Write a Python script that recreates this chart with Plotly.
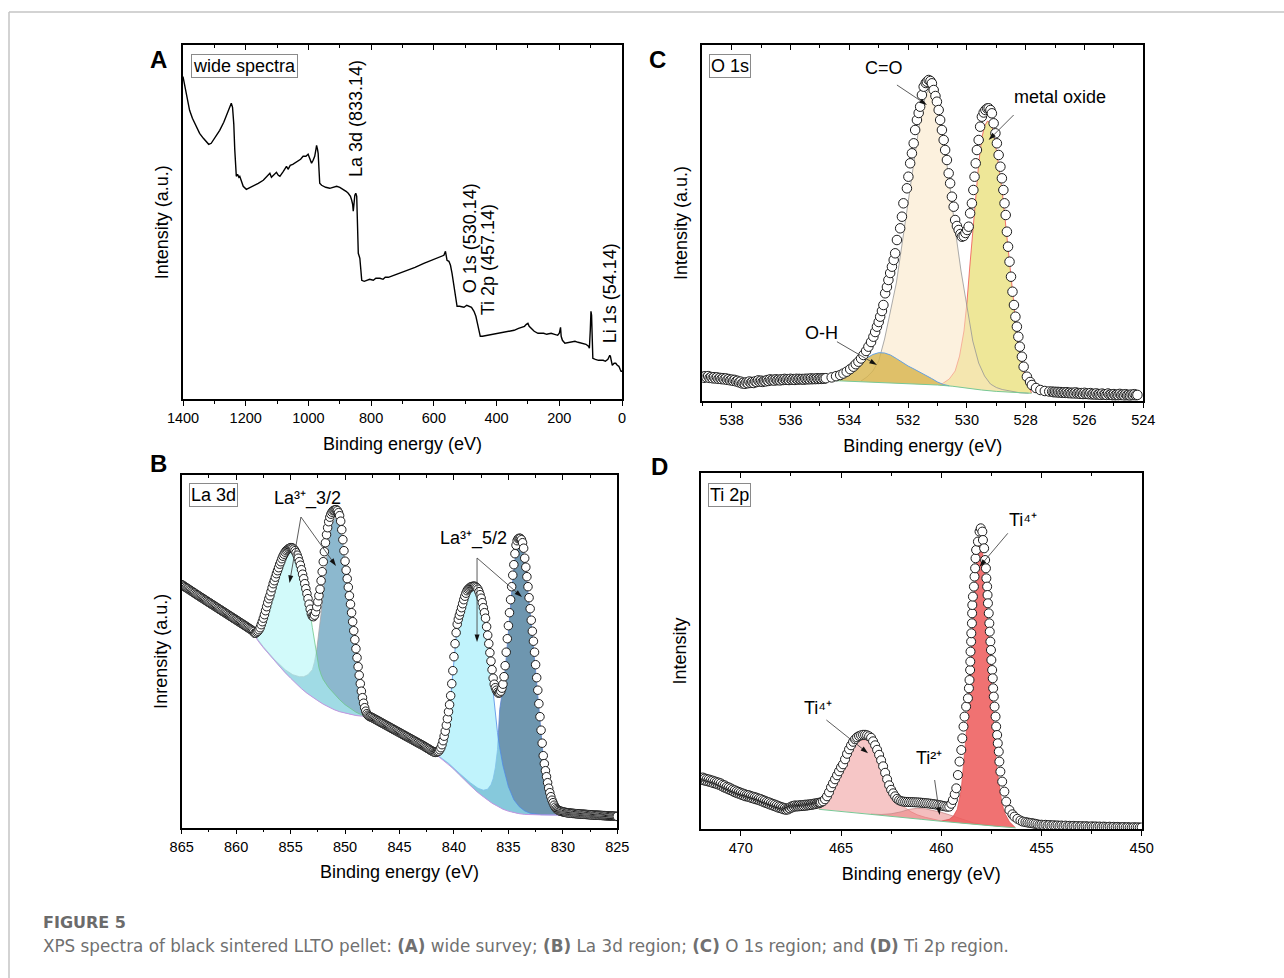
import plotly.graph_objects as go

# ================= DATA =================
# ---- Panel A: wide survey spectrum ----
A_energy = [1400, 1395, 1389, 1379, 1370, 1363, 1347, 1335, 1326, 1318, 1310, 1304, 1290, 1283, 1270, 1262, 1252, 1246,
            1242, 1238, 1235, 1232, 1230, 1226, 1222, 1219, 1214, 1208, 1198, 1185, 1171, 1160, 1144, 1130, 1123, 1118,
            1110, 1102, 1096, 1091, 1080, 1070, 1065, 1058, 1050, 1038, 1025, 1017, 1008, 1001, 995, 990, 985, 980, 976,
            974, 971, 969, 966, 964, 958, 953, 945, 932, 920, 910, 900, 889, 880, 873, 866, 862, 859, 857, 855, 852, 849,
            846, 844, 842, 841, 838, 836, 833, 830, 822, 814, 805, 793, 785, 772, 762, 755, 745, 728, 710, 686, 660, 632,
            610, 590, 575, 568, 563, 560, 558, 552, 547, 542, 536, 531, 526, 518, 510, 504, 495, 488, 480, 472, 466, 461,
            456, 452, 445, 429, 410, 386, 365, 344, 330, 311, 305, 300, 296, 290, 280, 268, 250, 240, 226, 215, 205, 200,
            196, 194, 190, 182, 170, 150, 140, 123, 115, 107, 104, 101, 99, 97, 95, 93, 85, 75, 60, 53, 45, 39, 37, 34, 31,
            25, 20, 15, 10, 6, 3, 0]
A_intensity = [322.7, 314, 306, 289, 281, 276, 266, 261, 258, 255, 256, 259, 265, 269, 277, 283, 290, 296,
               292, 275, 250, 232, 223, 225, 222, 223, 219, 213, 210, 212, 214, 216, 219, 224, 226, 222,
               225, 227, 224, 223, 228, 233, 230, 234, 235, 237, 240, 243, 243, 245, 240, 236, 239, 243, 250,
               254, 250, 246, 228, 216, 214, 213, 212, 211, 212, 213, 212, 210, 208, 206, 203, 199, 195, 188, 197, 204, 206,
               203, 180, 160, 146, 143, 141, 130, 119, 118, 119, 120, 119, 121, 121, 120, 122, 122, 124, 126, 129, 132, 136,
               139, 141, 143, 144, 148, 144, 139, 138, 134, 126, 115, 106, 93, 93, 92, 92, 94, 93, 92, 88, 83, 76,
               68, 63, 63, 64, 65, 66, 68, 69, 71, 73, 75, 76, 73, 71, 68, 66, 66, 65, 66, 65, 64, 66,
               72, 63, 59, 56, 57, 58, 57, 56, 55, 53, 51, 70, 88, 84, 60, 41, 40, 39, 39, 38, 40, 44, 43, 36, 34,
               36, 36, 34, 33, 30, 28, 28]
A_peak_labels = ["La 3d (833.14)", "O 1s (530.14)", "Ti 2p (457.14)", "Li 1s (54.14)"]

# ---- Panel B: La 3d ----
B_energy_base_left = [865.0, 864.9, 864.8, 864.7, 864.6, 864.5, 864.4, 864.3, 864.2, 864.1, 864.0, 863.9, 863.8, 863.7,
                      863.6, 863.5, 863.4, 863.3, 863.2, 863.1, 863.0, 862.9, 862.8, 862.7, 862.6, 862.5, 862.4, 862.3,
                      862.2, 862.1, 862.0, 861.9, 861.8, 861.7, 861.6, 861.5, 861.4, 861.3, 861.2, 861.1, 861.0, 860.9,
                      860.8, 860.7, 860.6, 860.5, 860.4, 860.3, 860.2, 860.1, 860.0, 859.9, 859.8, 859.7, 859.6, 859.5,
                      859.4, 859.3, 859.2, 859.1, 859.0, 858.9, 858.8, 858.7, 858.6, 858.5]
B_int_base_left = [243.0, 242.4, 241.5, 240.9, 240.1, 239.4, 238.8, 237.9, 237.3, 236.5, 235.9, 235.1, 234.5, 233.6,
                   233.0, 232.3, 231.6, 230.8, 230.2, 229.4, 228.8, 228.0, 227.4, 226.6, 226.0, 225.2, 224.6, 223.8,
                   223.2, 222.4, 221.8, 221.0, 220.4, 219.6, 219.0, 218.2, 217.6, 216.8, 216.2, 215.4, 214.8, 214.0,
                   213.4, 212.6, 212.0, 211.2, 210.6, 209.8, 209.2, 208.4, 207.8, 207.0, 206.4, 205.6, 205.0, 204.2,
                   203.6, 202.8, 202.2, 201.4, 200.7, 200.0, 199.2, 198.5, 197.8, 197.0]
B_energy_peaks1 = [858.4, 858.3, 858.2, 858.1, 858.0, 857.9, 857.8, 857.7, 857.6, 857.5, 857.4, 857.3, 857.2, 857.1, 857.0,
                   856.9, 856.8, 856.7, 856.6, 856.5, 856.4, 856.3, 856.2, 856.1, 856.0, 855.9, 855.8, 855.7, 855.6, 855.5,
                   855.4, 855.3, 855.2, 855.1, 855.0, 854.9, 854.8, 854.7, 854.6, 854.5, 854.4, 854.3, 854.2, 854.1, 854.0,
                   853.9, 853.8, 853.7, 853.6, 853.5, 853.4, 853.3, 853.2, 853.1, 853.0, 852.9, 852.8, 852.7, 852.6, 852.5,
                   852.4, 852.3, 852.2, 852.1, 852.0, 851.9, 851.8, 851.7, 851.6, 851.5, 851.4, 851.3, 851.2, 851.1, 851.0,
                   850.9, 850.8, 850.7, 850.6, 850.5, 850.4, 850.3, 850.2, 850.1, 850.0, 849.9, 849.8, 849.7, 849.6, 849.5,
                   849.4, 849.3, 849.2, 849.1, 849.0, 848.9, 848.8, 848.7, 848.6, 848.5, 848.4, 848.3, 848.2, 848.1, 848.0,
                   847.9, 847.8, 847.7]
B_int_peaks1 = [196, 194.5, 194.5, 195.5, 196.5, 198, 200, 203, 206, 209.5, 213, 217, 221, 225, 229,
                232, 236, 240, 244, 247, 250.5, 254, 257, 260, 263.5, 266, 269, 271.5, 273.5, 275.5,
                277, 278, 279, 279.5, 280, 280, 279.5, 278.5, 277, 275, 272.5, 269.5, 266, 262.5, 258,
                253.5, 249, 244, 239, 234, 229, 223.5, 218.5, 214, 211.5, 211, 212.5, 216, 221, 226,
                232, 238.5, 247, 256, 266, 276, 285, 293, 300, 306, 310.5, 313.5, 315.5, 317, 317.5,
                318, 318, 317, 315, 312, 306.5, 298, 288, 277, 266.5, 257.5, 249, 240.5, 232, 223.5,
                215, 206, 197, 188, 179, 170, 161, 152.5, 144, 136.5, 130, 124.5, 120, 116.5, 114,
                112.5, 111.5, 111]
B_energy_base_mid = [847.6, 847.5, 847.4, 847.3, 847.2, 847.1, 847.0, 846.9, 846.8, 846.7, 846.6, 846.5, 846.4, 846.3,
                     846.2, 846.1, 846.0, 845.9, 845.8, 845.7, 845.6, 845.5, 845.4, 845.3, 845.2, 845.1, 845.0, 844.9,
                     844.8, 844.7, 844.6, 844.5, 844.4, 844.3, 844.2, 844.1, 844.0, 843.9, 843.8, 843.7, 843.6, 843.5,
                     843.4, 843.3, 843.2, 843.1, 843.0, 842.9, 842.8, 842.7, 842.6, 842.5, 842.4, 842.3, 842.2, 842.1]
B_int_base_mid = [110.6, 110.1, 109.4, 108.9, 108.2, 107.7, 107.0, 106.5, 105.8, 105.3, 104.6, 104.1, 103.4, 102.9,
                  102.2, 101.7, 101.0, 100.5, 99.8, 99.3, 98.6, 98.1, 97.4, 96.9, 96.2, 95.7, 95.0, 94.5,
                  93.8, 93.3, 92.6, 92.1, 91.4, 90.9, 90.2, 89.7, 89.0, 88.5, 87.8, 87.3, 86.6, 86.1,
                  85.4, 84.9, 84.2, 83.7, 83.0, 82.5, 81.8, 81.2, 80.5, 79.9, 79.2, 78.6, 77.9, 77.2]
B_energy_peaks2 = [842.0, 841.9, 841.8, 841.7, 841.6, 841.5, 841.4, 841.3, 841.2, 841.1, 841.0, 840.9, 840.8, 840.7, 840.6,
                   840.5, 840.4, 840.3, 840.2, 840.1, 840.0, 839.9, 839.8, 839.7, 839.6, 839.5, 839.4, 839.3, 839.2, 839.1,
                   839.0, 838.9, 838.8, 838.7, 838.6, 838.5, 838.4, 838.3, 838.2, 838.1, 838.0, 837.9, 837.8, 837.7, 837.6,
                   837.5, 837.4, 837.3, 837.2, 837.1, 837.0, 836.9, 836.8, 836.7, 836.6, 836.5, 836.4, 836.3, 836.2, 836.1,
                   836.0, 835.9, 835.8, 835.7, 835.6, 835.5, 835.4, 835.3, 835.2, 835.1, 835.0, 834.9, 834.8, 834.7, 834.6,
                   834.5, 834.4, 834.3, 834.2, 834.1, 834.0, 833.9, 833.8, 833.7, 833.6, 833.5, 833.4, 833.3, 833.2, 833.1,
                   833.0, 832.9, 832.8, 832.7, 832.6, 832.5, 832.4, 832.3, 832.2, 832.1, 832.0, 831.9, 831.8, 831.7, 831.6,
                   831.5, 831.4, 831.3, 831.2, 831.1, 831.0, 830.9, 830.8, 830.7, 830.6, 830.5]
B_int_peaks2 = [76.5, 76, 75.5, 75.3, 75.5, 76, 76.5, 78, 80, 83, 87, 91.5, 96.5, 102.5, 109,
                116, 123, 132, 144, 157, 171, 184, 195, 203.5, 208.5, 212.5, 216, 220, 224, 228,
                231.5, 234.5, 237, 238.5, 239.5, 240.5, 241, 241.3, 241.5, 241.5, 241, 240, 238.5, 236, 233,
                229.5, 225, 220, 215, 209.5, 201, 192.5, 184, 175, 166.5, 158, 149.5, 143.5, 140, 137.5,
                135.5, 134.5, 135, 136.5, 139.5, 143.5, 151, 162, 175.5, 189, 202, 215, 228, 241, 252.5,
                263, 274, 282.5, 287, 289, 289.5, 289.3, 288, 285, 279.5, 269.5, 260.5, 251, 241, 230,
                219, 207.5, 196.5, 186.5, 175.5, 163, 150, 137.5, 124, 111, 97.5, 84.5, 72, 64, 57,
                51, 45, 39.5, 35, 31, 27.5, 25, 22.5, 20.5, 19, 18]
B_energy_base_right = [830.4, 830.3, 830.2, 830.1, 830.0, 829.9, 829.8, 829.7, 829.6, 829.5, 829.4, 829.3, 829.2, 829.1,
                       829.0, 828.9, 828.8, 828.7, 828.6, 828.5, 828.4, 828.3, 828.2, 828.1, 828.0, 827.9, 827.8, 827.7,
                       827.6, 827.5, 827.4, 827.3, 827.2, 827.1, 827.0, 826.9, 826.8, 826.7, 826.6, 826.5, 826.4, 826.3,
                       826.2, 826.1, 826.0, 825.9, 825.8, 825.7, 825.6, 825.5, 825.4, 825.3, 825.2, 825.1, 825.0]
B_int_base_right = [17.3, 16.8, 16.5, 16.2, 15.9, 15.6, 15.4, 15.1, 15.0, 14.8, 14.7, 14.5, 14.5, 14.3,
                    14.3, 14.1, 14.1, 13.9, 13.9, 13.8, 13.7, 13.6, 13.6, 13.4, 13.4, 13.3, 13.2, 13.1,
                    13.1, 12.9, 12.9, 12.8, 12.8, 12.6, 12.6, 12.5, 12.5, 12.4, 12.3, 12.3, 12.2, 12.1,
                    12.1, 12.0, 11.9, 11.9, 11.8, 11.7, 11.7, 11.6, 11.5, 11.5, 11.4, 11.3, 11.3]

# fitted background and component envelopes (background + component)
B_bg1_e = [858.4, 858.0, 857.5, 857.0, 856.5, 856.0, 855.5, 855.0, 854.5, 854.0, 853.5, 853.0, 852.5, 852.0, 851.5,
           851.0, 850.5, 850.0, 849.5, 849.0, 848.5, 848.0, 847.7]
B_bg1_i = [194, 187, 180, 173.5, 167, 161, 155, 149.5, 144, 139, 134.5, 130.5, 127, 123.5, 120.5,
           118, 116, 114.5, 113.2, 112.2, 111.6, 111.2, 111]
B_bg2_e = [841.9, 841.5, 841.0, 840.5, 840.0, 839.5, 839.0, 838.5, 838.0, 837.5, 837.0, 836.5, 836.0, 835.5, 835.0,
           834.5, 834.0, 833.5, 833.0, 832.0, 831.0, 830.0]
B_bg2_i = [75.5, 72, 68, 63.5, 58.5, 53, 47.5, 42, 37, 32.5, 28.5, 24.5, 21.5, 18.5, 16.5,
           15, 14, 13.3, 13, 12.8, 12.7, 12.7]
B_c1_e = [858.4, 858.0, 857.6, 857.2, 856.8, 856.4, 856.0, 855.6, 855.2, 854.9, 854.6, 854.3, 854.0, 853.7, 853.4,
          853.2, 853.0, 852.8, 852.6, 852.4, 852.2, 852.0, 851.5, 851.0, 850.5, 850.0, 849.5, 849.0, 848.5, 848.0, 847.7]
B_c1_i = [194, 194, 203, 218, 233, 248, 261, 270, 275.5, 277, 274.5, 266.5, 255, 240, 225,
          214, 200, 185, 170, 160, 153, 148, 140, 133.5, 128, 123, 119, 115.5, 113, 111.5, 111]
B_c2_e = [858.4, 857.5, 856.5, 855.5, 854.8, 854.2, 853.8, 853.4, 853.0, 852.8, 852.6, 852.4, 852.2, 852.0, 851.8,
          851.6, 851.4, 851.2, 851.0, 850.8, 850.6, 850.4, 850.2, 850.0, 849.8, 849.5, 849.2, 849.0, 848.7, 848.4,
          848.2, 848.0, 847.7]
B_c2_i = [194, 181, 168.5, 158, 153, 151, 151, 153, 158, 166, 178, 195, 214, 236, 258,
          279, 294, 303, 308, 310, 307, 300, 285, 262, 242, 214, 188, 172, 146, 126,
          118, 113.5, 111]
B_c3_e = [841.9, 841.5, 841.1, 840.8, 840.5, 840.3, 840.1, 839.9, 839.7, 839.5, 839.2, 838.9, 838.6, 838.3, 838.0,
          837.7, 837.4, 837.1, 836.8, 836.5, 836.2, 836.0, 835.8, 835.5, 835.0, 834.5, 834.0, 833.5, 833.0, 832.5,
          832.0, 831.0, 830.0]
B_c3_i = [75.5, 75, 82, 95, 114, 130, 155, 182, 201, 210, 221, 231, 236, 237.5, 237,
          232, 221, 203, 177, 145, 113, 95, 80, 62, 41, 28, 21, 16.8, 14.5, 13.5,
          13, 12.8, 12.7]
B_c4_e = [841.9, 840.5, 839.5, 838.5, 837.8, 837.3, 836.9, 836.6, 836.4, 836.2, 836.0, 835.9, 835.8, 835.6, 835.4,
          835.2, 835.0, 834.8, 834.6, 834.4, 834.2, 834.0, 833.8, 833.6, 833.4, 833.2, 833.0, 832.8, 832.6, 832.4,
          832.2, 832.0, 831.8, 831.6, 831.3, 831.0, 830.6, 830.0]
B_c4_i = [75.5, 64.5, 54.5, 45, 39.5, 37.5, 38.5, 43, 49, 60, 78, 95, 118, 133, 146,
          170, 197, 223, 248, 268, 281, 285, 283, 274, 256, 237, 215, 193, 171, 146,
          120, 95, 70, 54, 36, 25, 17, 13]

# ---- Panel C: O 1s ----
C_energy_left = [539.00, 538.95, 538.90, 538.85, 538.80, 538.75, 538.70, 538.65, 538.60, 538.55, 538.50, 538.45,
                 538.40, 538.35, 538.30, 538.25, 538.20, 538.15, 538.10, 538.05, 538.00, 537.95, 537.90, 537.85,
                 537.80, 537.75, 537.70, 537.65, 537.60, 537.55, 537.50, 537.45, 537.40, 537.35, 537.30, 537.25,
                 537.20, 537.15, 537.10, 537.05, 537.00, 536.95, 536.90, 536.85, 536.80, 536.75, 536.70, 536.65,
                 536.60, 536.55, 536.50, 536.45, 536.40, 536.35, 536.30, 536.25, 536.20, 536.15, 536.10, 536.05,
                 536.00, 535.95, 535.90, 535.85, 535.80, 535.75, 535.70, 535.65, 535.60, 535.55, 535.50, 535.45,
                 535.40, 535.35, 535.30, 535.25, 535.20, 535.15, 535.10, 535.05, 535.00, 534.95, 534.90, 534.85]
C_int_left = [24.5, 23.2, 24.8, 23.6, 24.9, 23.1, 24.0, 22.7, 23.8, 22.5, 23.6, 22.2,
              23.1, 21.9, 22.8, 21.6, 22.6, 21.2, 22.0, 20.7, 21.4, 20.2, 21.1, 19.6,
              20.2, 18.7, 19.4, 17.6, 18.3, 17.2, 18.6, 17.8, 19.5, 18.1, 19.0, 18.0,
              19.6, 19.0, 20.6, 19.4, 20.3, 19.1, 20.0, 19.6, 20.9, 20.1, 21.6, 20.6,
              21.3, 20.4, 21.7, 20.8, 21.4, 20.6, 21.7, 21.0, 22.1, 21.2, 21.8, 21.0,
              22.2, 21.3, 21.9, 21.1, 22.2, 21.4, 22.1, 21.5, 22.0, 21.3, 22.2, 21.6,
              22.3, 21.7, 22.6, 21.8, 22.4, 21.9, 22.7, 22.0, 22.6, 22.1, 22.8, 22.3]
C_energy_peaks = [534.8, 534.6, 534.45, 534.31, 534.2, 534.09, 533.97, 533.86, 533.78, 533.69, 533.6, 533.52, 533.43,
                  533.35, 533.26, 533.18, 533.12, 533.06, 533.0, 532.95, 532.89, 532.84, 532.78, 532.72, 532.67, 532.61,
                  532.55, 532.49, 532.44, 532.38, 532.27, 532.21, 532.16, 532.04, 531.99, 531.93, 531.87, 531.81, 531.76,
                  531.70, 531.64, 531.59, 531.53, 531.47, 531.40, 531.36, 531.30, 531.24, 531.19, 531.13, 531.07, 531.02,
                  530.96, 530.91, 530.85, 530.79, 530.74, 530.68, 530.62, 530.57, 530.51, 530.45, 530.40, 530.34, 530.28,
                  530.22, 530.17, 530.11, 530.05, 529.99, 529.94, 529.89, 529.83, 529.78, 529.74, 529.70, 529.66, 529.60,
                  529.55, 529.49, 529.43, 529.37, 529.31, 529.26, 529.20, 529.15, 529.09, 529.03, 528.98, 528.92, 528.86,
                  528.81, 528.76, 528.72, 528.68, 528.64, 528.60, 528.55, 528.50, 528.45, 528.40, 528.35, 528.30, 528.25,
                  528.20, 528.13, 528.07, 527.96, 527.85, 527.79, 527.65, 527.50, 527.35, 527.2]
C_int_peaks = [22.8, 23.6, 24.8, 26, 27.5, 29.3, 31.8, 34.3, 36.8, 39.3, 42.5, 46, 50,
               54.3, 59, 64.3, 69, 74.3, 79, 84.3, 90, 96, 107.7, 114, 121, 128,
               134.3, 141, 147.7, 161, 172.7, 184.3, 197.7, 212.7, 224.3, 237.7, 247.7, 257.7, 271,
               281, 288, 294.3, 306, 314.3, 318, 319.3, 321, 320, 317.7, 311, 305, 299.3,
               291, 281, 271, 261, 251, 241, 227.7, 217.7, 204.3, 194.3, 181, 175, 171,
               167, 164.3, 165, 168, 171, 174.3, 187.7, 197.7, 211, 224.3, 237.7, 251, 261,
               274.3, 284.3, 288.5, 291, 292.5, 292.7, 291, 287.7, 277.7, 267.7, 257.7, 246, 234.3,
               222.7, 211, 197.7, 186, 169.3, 154.3, 139.3, 124.3, 109.3, 96, 84.3, 74.3, 64.3,
               54.3, 44.3, 34.3, 24.3, 19, 16, 13, 11, 10, 9.5]
C_energy_right = [527.10, 527.05, 527.00, 526.95, 526.90, 526.85, 526.80, 526.75, 526.70, 526.65, 526.60, 526.55,
                  526.50, 526.45, 526.40, 526.35, 526.30, 526.25, 526.20, 526.15, 526.10, 526.05, 526.00, 525.95,
                  525.90, 525.85, 525.80, 525.75, 525.70, 525.65, 525.60, 525.55, 525.50, 525.45, 525.40, 525.35,
                  525.30, 525.25, 525.20, 525.15, 525.10, 525.05, 525.00, 524.95, 524.90, 524.85, 524.80, 524.75,
                  524.70, 524.65, 524.60, 524.55, 524.50, 524.45, 524.40, 524.35, 524.30, 524.25, 524.20]
C_int_right = [9.4, 8.8, 9.2, 8.6, 9.1, 8.4, 8.9, 8.2, 8.7, 8.1, 8.8, 7.9,
               8.4, 7.7, 8.3, 7.6, 8.6, 7.5, 8.0, 7.2, 7.9, 7.0, 8.2, 7.1,
               7.6, 6.8, 7.9, 6.6, 7.2, 6.5, 7.6, 6.4, 6.9, 6.2, 7.4, 6.3,
               6.8, 6.1, 7.5, 6.2, 6.6, 5.9, 6.9, 5.8, 6.4, 5.9, 7.1, 6.0,
               6.5, 5.7, 6.8, 5.8, 6.2, 5.6, 6.5, 5.9, 6.8, 5.8, 6.1]
C_bg_e = [534.6, 534.0, 533.0, 532.0, 531.0, 530.5, 530.0, 529.5, 529.0, 528.5, 528.0, 527.8]
C_bg_i = [20.5, 19.8, 18.5, 17.2, 16, 14.8, 12.8, 11, 9.6, 8.6, 7.9, 7.7]
C_oh_e = [534.6, 534.3, 534.0, 533.7, 533.4, 533.2, 533.0, 532.8, 532.6, 532.4, 532.2, 532.0, 531.8, 531.5, 531.2,
          531.0, 530.8, 530.6]
C_oh_i = [20.5, 25, 30.5, 37, 43, 46.5, 48.3, 48, 46, 42.5, 38.5, 35, 32, 27.5, 22.5, 19, 16.5, 15.2]
C_co_e = [533.6, 533.4, 533.2, 533.0, 532.8, 532.6, 532.4, 532.2, 532.0, 531.8, 531.6, 531.4, 531.3, 531.2, 531.0,
          530.8, 530.6, 530.4, 530.2, 530.0, 529.8, 529.6, 529.4, 529.2, 529.0, 528.8, 528.5, 528.2, 527.9]
C_co_i = [20, 24, 30, 40, 62, 90, 118, 158, 200, 242, 280, 306, 312, 311, 294,
          262, 220, 172, 130, 95, 60, 38, 25, 17, 13.5, 11.5, 9.5, 8.2, 7.7]
C_mo_e = [530.9, 530.6, 530.4, 530.25, 530.1, 530.0, 529.9, 529.8, 529.7, 529.6, 529.5, 529.4, 529.3, 529.2, 529.1,
          529.0, 528.9, 528.8, 528.7, 528.6, 528.5, 528.4, 528.3, 528.2, 528.1, 528.0, 527.9, 527.8]
C_mo_i = [16, 22, 30, 45, 70, 98, 135, 170, 205, 237, 262, 275, 280, 278, 270,
          252, 232, 210, 182, 150, 120, 92, 68, 48, 33, 22, 14, 8]

# ---- Panel D: Ti 2p ----
D_energy_left = [472.00, 471.95, 471.90, 471.85, 471.80, 471.75, 471.70, 471.65, 471.60, 471.55, 471.50, 471.45,
                 471.40, 471.35, 471.30, 471.25, 471.20, 471.15, 471.10, 471.05, 471.00, 470.95, 470.90, 470.85,
                 470.80, 470.75, 470.70, 470.65, 470.60, 470.55, 470.50, 470.45, 470.40, 470.35, 470.30, 470.25,
                 470.20, 470.15, 470.10, 470.05, 470.00, 469.95, 469.90, 469.85, 469.80, 469.75, 469.70, 469.65,
                 469.60, 469.55, 469.50, 469.45, 469.40, 469.35, 469.30, 469.25, 469.20, 469.15, 469.10, 469.05,
                 469.00, 468.95, 468.90, 468.85, 468.80, 468.75, 468.70, 468.65, 468.60, 468.55, 468.50, 468.45,
                 468.40, 468.35, 468.30, 468.25, 468.20, 468.15, 468.10, 468.05, 468.00, 467.95, 467.90, 467.85,
                 467.80, 467.75, 467.70, 467.65, 467.60, 467.55, 467.50, 467.45, 467.40, 467.35, 467.30, 467.25,
                 467.20, 467.15, 467.10, 467.05, 467.00, 466.95, 466.90, 466.85, 466.80, 466.75, 466.70, 466.65,
                 466.60, 466.55, 466.50, 466.45, 466.40, 466.35, 466.30, 466.25, 466.20, 466.15, 466.10, 466.05]
D_int_left = [51.5, 49.6, 51.8, 49.0, 50.9, 48.4, 50.3, 48.0, 49.9, 47.4, 49.1, 46.8,
              48.7, 46.1, 47.9, 45.6, 47.2, 44.9, 46.7, 44.2, 45.9, 43.1, 44.6, 42.0,
              43.9, 41.2, 42.6, 40.3, 41.9, 39.4, 40.9, 38.6, 39.8, 37.5, 39.0, 36.6,
              38.1, 35.9, 37.4, 35.2, 36.6, 34.3, 35.8, 33.6, 35.1, 32.9, 34.4, 32.6,
              34.1, 32.0, 33.3, 31.2, 32.7, 30.6, 32.1, 30.0, 31.6, 29.5, 30.7, 28.8,
              30.2, 28.0, 29.3, 27.1, 28.6, 26.3, 27.6, 25.6, 27.0, 24.8, 26.2, 24.1,
              25.5, 23.3, 24.7, 22.6, 23.9, 21.8, 23.1, 21.2, 22.5, 20.6, 21.7, 19.9,
              21.1, 19.5, 20.6, 19.8, 21.4, 20.9, 22.6, 21.8, 23.4, 22.6, 23.9, 22.8,
              23.6, 22.9, 24.0, 23.1, 24.1, 23.2, 24.3, 23.4, 24.6, 23.6, 24.7, 23.9,
              24.9, 24.2, 25.2, 24.5, 25.5, 24.9, 25.9, 25.3, 26.2, 25.8, 26.6, 26.4]
D_energy_mid = [466.0, 465.9, 465.8, 465.7, 465.6, 465.5, 465.4, 465.3, 465.2, 465.1, 465.0, 464.9, 464.8, 464.7,
                464.6, 464.5, 464.4, 464.3, 464.2, 464.1, 464.0, 463.9, 463.8, 463.7, 463.6, 463.5, 463.4, 463.3,
                463.2, 463.1, 463.0, 462.9, 462.8, 462.7, 462.6, 462.5, 462.4, 462.3, 462.2, 462.1, 462.0, 461.9,
                461.8, 461.7, 461.6, 461.5, 461.4, 461.3, 461.2, 461.1, 461.0, 460.9, 460.8, 460.7, 460.6, 460.5,
                460.4, 460.3, 460.2, 460.1, 460.0, 459.9, 459.8, 459.7, 459.6, 459.5]
D_int_mid = [27, 28, 30, 33, 37, 42, 46, 50, 54, 58, 62, 65, 70, 75.5,
             80, 84, 87.5, 90, 92, 93.3, 94, 94.5, 94.5, 94, 93, 91.5, 88, 84,
             79.5, 74.5, 69, 63, 56.5, 50, 44, 39.5, 36, 33, 30.5, 29, 28.2, 27.7,
             27.5, 27.4, 27.3, 27.2, 27.1, 27.0, 26.9, 26.8, 26.6, 26.4, 26.2, 26.0, 25.8, 25.5,
             25.2, 24.9, 24.6, 24.2, 23.8, 23.3, 22.9, 22.6, 22.7, 25.5]
D_energy_main = [459.42, 459.33, 459.25, 459.17, 459.09, 459.00, 458.95, 458.89, 458.84, 458.76, 458.67, 458.62,
                 458.59, 458.56, 458.55, 458.54, 458.51, 458.50, 458.47, 458.46, 458.45, 458.42, 458.37, 458.34,
                 458.31, 458.29, 458.26, 458.17, 458.09, 458.03, 457.95, 457.92, 457.86, 457.81, 457.77, 457.75,
                 457.71, 457.69, 457.67, 457.63, 457.60, 457.58, 457.55, 457.52, 457.50, 457.46, 457.43, 457.41,
                 457.38, 457.34, 457.29, 457.26, 457.21, 457.18, 457.13, 457.10, 457.05, 456.96, 456.85, 456.76,
                 456.60, 456.45, 456.35, 456.2, 456.05, 455.93]
D_int_main = [29.3, 35, 41, 54.3, 67.7, 79.3, 91, 102.7, 112.7, 122.7, 131, 141,
              149.3, 159.3, 167.7, 177.7, 187.7, 196, 206, 216, 224.3, 232.7, 242.7, 252.7,
              261, 271, 279.3, 287.7, 297.7, 301, 297.7, 289.3, 281, 269.3, 261, 251,
              242.7, 234.3, 226, 216, 206, 197.7, 187.7, 179.3, 169.3, 159.3, 151, 141,
              132.7, 122.7, 112.7, 102.7, 94.3, 86, 77.7, 67.7, 57.7, 47.7, 37.7, 27.7,
              19.3, 15, 12.7, 10.5, 8.8, 7.7]
D_energy_right = [455.8, 455.7, 455.6, 455.5, 455.4, 455.3, 455.2, 455.1, 455.0, 454.9, 454.8, 454.7, 454.6, 454.5,
                  454.4, 454.3, 454.2, 454.1, 454.0, 453.9, 453.8, 453.7, 453.6, 453.5, 453.4, 453.3, 453.2, 453.1,
                  453.0, 452.9, 452.8, 452.7, 452.6, 452.5, 452.4, 452.3, 452.2, 452.1, 452.0, 451.9, 451.8, 451.7,
                  451.6, 451.5, 451.4, 451.3, 451.2, 451.1, 451.0, 450.9, 450.8, 450.7, 450.6, 450.5, 450.4, 450.3,
                  450.2, 450.1, 450.0]
D_int_right = [7.2, 6.8, 6.5, 6.2, 5.8, 5.5, 5.0, 4.4, 4.6, 4.2, 4.5, 3.9, 4.3, 3.7,
               4.1, 3.6, 3.9, 3.4, 3.8, 3.3, 3.7, 3.1, 3.5, 3.0, 3.4, 2.9, 3.3, 2.8,
               3.2, 2.7, 3.1, 2.9, 2.5, 3.0, 2.6, 2.9, 2.4, 2.8, 2.3, 2.7, 2.5, 2.2,
               2.6, 2.1, 2.5, 2.0, 2.4, 2.1, 1.9, 2.3, 1.8, 2.2, 1.9, 1.7, 2.1, 1.8,
               2.0, 1.7, 1.9]
D_bg_e = [466.1, 465.0, 464.0, 463.0, 462.0, 461.0, 460.0, 459.0, 458.0, 457.0, 456.3]
D_bg_i = [20, 18, 16, 14, 12, 10, 8, 6, 4.2, 2.6, 1.5]
D_p1_e = [466.1, 465.8, 465.5, 465.2, 465.0, 464.8, 464.6, 464.4, 464.2, 464.0, 463.8, 463.6, 463.4, 463.2, 463.0,
          462.8, 462.6, 462.4, 462.2, 462.0, 461.8, 461.5, 461.2, 460.8, 460.4, 460.0]
D_p1_i = [20, 27, 38, 50, 58, 66, 75, 82, 87, 89, 89.3, 88, 84, 76, 66,
          55, 45, 37, 30.5, 25.5, 21.5, 17.5, 14.5, 12, 10, 8.3]
D_ti2_e = [463.5, 463.0, 462.5, 462.0, 461.6, 461.2, 460.8, 460.4, 460.0, 459.6, 459.2, 458.8, 458.4, 458.0, 457.5, 457.0]
D_ti2_i = [15.2, 14.8, 15.5, 17.5, 20, 21, 20.5, 19, 17, 14.5, 12, 9, 6.5, 5, 3.6, 2.8]
D_main_e = [460.0, 459.6, 459.4, 459.2, 459.0, 458.9, 458.8, 458.7, 458.6, 458.5, 458.4, 458.3, 458.2, 458.1, 458.0,
            457.9, 457.8, 457.7, 457.6, 457.5, 457.4, 457.3, 457.2, 457.1, 457.0, 456.9, 456.8, 456.6, 456.4, 456.3]
D_main_i = [8.2, 10, 13, 20, 40, 60, 85, 110, 140, 180, 220, 254, 276, 284, 283,
            272, 250, 215, 178, 143, 108, 80, 58, 42, 30, 21, 15, 7.5, 3, 1.6]

# ================= FIGURE =================
FONT = "Liberation Sans, Arial, Helvetica, sans-serif"
CAP_FONT = "DejaVu Sans, Open Sans, sans-serif"
W, H = 1284, 978
fig = go.Figure()


def band(ce, ci, be, bi):
    lo, hi = min(ce), max(ce)
    sel = [(e, i) for e, i in zip(be, bi) if lo < e < hi]
    sel.sort(key=lambda p: p[0], reverse=(ce[0] < ce[-1]))
    return list(ce) + [p[0] for p in sel], list(ci) + [p[1] for p in sel]


def add_fill(ax, ce, ci, be, bi, fillcolor, linecolor, lw=0.8):
    xs, ys = band(ce, ci, be, bi)
    fig.add_trace(go.Scatter(x=xs, y=ys, xaxis=ax[0], yaxis=ax[1], mode="lines", fill="toself",
                             fillcolor=fillcolor, line=dict(color=fillcolor, width=0),
                             hoverinfo="skip", showlegend=False))
    fig.add_trace(go.Scatter(x=ce, y=ci, xaxis=ax[0], yaxis=ax[1], mode="lines",
                             line=dict(color=linecolor, width=lw), hoverinfo="skip", showlegend=False))


def add_line(ax, e, i, color, width):
    fig.add_trace(go.Scatter(x=e, y=i, xaxis=ax[0], yaxis=ax[1], mode="lines",
                             line=dict(color=color, width=width), hoverinfo="skip", showlegend=False))


def add_points(ax, e, i, size):
    fig.add_trace(go.Scatter(x=e, y=i, xaxis=ax[0], yaxis=ax[1], mode="markers",
                             marker=dict(symbol="circle", size=size, color="white",
                                         line=dict(color="#1e1e1e", width=1)),
                             hoverinfo="skip", showlegend=False))


def add_arrow(ax, tail, head):
    fig.add_trace(go.Scatter(x=[tail[0], head[0]], y=[tail[1], head[1]], xaxis=ax[0], yaxis=ax[1],
                             mode="lines+markers", line=dict(color="#4a4a4a", width=0.9),
                             marker=dict(symbol="arrow", angleref="previous", size=8, color="#111111"),
                             hoverinfo="skip", showlegend=False))


# Panel A
add_line(("x", "y"), A_energy, A_intensity, "black", 1.4)

# Panel B
AXB = ("x2", "y2")
add_fill(AXB, B_c2_e, B_c2_i, B_bg1_e, B_bg1_i, "rgb(140,184,206)", "rgb(165,165,170)")
add_fill(AXB, B_c1_e, B_c1_i, B_bg1_e, B_bg1_i, "rgba(176,246,246,0.57)", "rgb(110,200,140)")
add_fill(AXB, B_c4_e, B_c4_i, B_bg2_e, B_bg2_i, "rgb(110,150,175)", "rgb(90,130,210)")
add_fill(AXB, B_c3_e, B_c3_i, B_bg2_e, B_bg2_i, "rgba(150,235,250,0.6)", "rgb(80,140,230)")
add_line(AXB, B_bg1_e, B_bg1_i, "rgb(195,150,225)", 1)
add_line(AXB, B_bg2_e, B_bg2_i, "rgb(195,150,225)", 1)
add_points(AXB, B_energy_base_left + B_energy_peaks1 + B_energy_base_mid + B_energy_peaks2 + B_energy_base_right,
           B_int_base_left + B_int_peaks1 + B_int_base_mid + B_int_peaks2 + B_int_base_right, 8.5)

# Panel C
AXC = ("x3", "y3")
add_fill(AXC, C_mo_e, C_mo_i, C_bg_e, C_bg_i, "rgb(238,231,152)", "rgb(240,80,80)")
add_fill(AXC, C_co_e, C_co_i, C_bg_e, C_bg_i, "rgba(250,230,195,0.55)", "rgb(150,150,150)")
add_fill(AXC, C_oh_e, C_oh_i, C_bg_e, C_bg_i, "rgba(215,180,75,0.8)", "rgb(100,160,225)", 1)
add_line(AXC, C_bg_e, C_bg_i, "rgb(120,200,150)", 1)
add_points(AXC, C_energy_left + C_energy_peaks + C_energy_right, C_int_left + C_int_peaks + C_int_right, 9.5)

# Panel D
AXD = ("x4", "y4")
add_fill(AXD, D_p1_e, D_p1_i, D_bg_e, D_bg_i, "rgba(240,160,160,0.6)", "rgb(235,150,150)")
add_fill(AXD, D_ti2_e, D_ti2_i, D_bg_e, D_bg_i, "rgba(230,110,110,0.45)", "rgb(200,140,140)")
add_fill(AXD, D_main_e, D_main_i, D_bg_e, D_bg_i, "rgba(238,95,95,0.88)", "rgb(225,85,85)")
add_line(AXD, D_bg_e, D_bg_i, "rgb(120,200,150)", 1)
add_points(AXD, D_energy_left + D_energy_mid + D_energy_main + D_energy_right,
           D_int_left + D_int_mid + D_int_main + D_int_right, 9)

# annotation arrows (tail -> head), placed in data coordinates
add_arrow(AXB, (854.05, 310.7), (855.1, 244.7))
add_arrow(AXB, (854.05, 310.7), (850.83, 261.7))
add_arrow(AXB, (837.88, 269.7), (837.88, 185.7))
add_arrow(AXB, (837.88, 269.7), (833.75, 230.7))
add_arrow(AXC, (532.38, 316), (531.36, 296))
add_arrow(AXC, (528.41, 286), (529.26, 261))
add_arrow(AXC, (534.42, 59.3), (533.06, 36))
add_arrow(AXD, (456.68, 296), (458.09, 262.6))
add_arrow(AXD, (465.73, 109.3), (463.65, 76))
add_arrow(AXD, (460.33, 49.3), (460.08, 14.3))

# empty traces so the top (inside-tick) mirror axes are drawn
for xa, ya in (("x5", "y"), ("x6", "y2"), ("x7", "y3"), ("x8", "y4")):
    fig.add_trace(go.Scatter(x=[None], y=[None], xaxis=xa, yaxis=ya, mode="markers",
                             hoverinfo="skip", showlegend=False))


def dom_x(l, r):
    return [l / W, r / W]


def dom_y(t, b):
    return [1 - b / H, 1 - t / H]


panels = {
    "A": dict(xd=dom_x(183, 622), yd=dom_y(45, 399.3), xr=[1400, 0], yr=[0, 354.3], dt=200, mdt=100,
              ytitle="Intensity (a.u.)"),
    "B": dict(xd=dom_x(181.7, 617.3), yd=dom_y(475, 827.7), xr=[865, 825], yr=[0, 352.7], dt=5, mdt=2.5,
              ytitle="Inrensity (a.u.)"),
    "C": dict(xd=dom_x(702.3, 1143.3), yd=dom_y(45, 401), xr=[539, 524], yr=[0, 356], dt=2, mdt=1,
              ytitle="Intensity (a.u.)"),
    "D": dict(xd=dom_x(700.7, 1141.7), yd=dom_y(472.7, 829.3), xr=[472, 450], yr=[0, 356.6], dt=5, mdt=2.5,
              ytitle="Intensity"),
}

layout = dict(width=W, height=H, margin=dict(l=0, r=0, t=0, b=0, autoexpand=False),
              paper_bgcolor="white", plot_bgcolor="white",
              showlegend=False, font=dict(family=FONT, color="black", size=14))

for k, (key, p) in enumerate(panels.items(), start=1):
    sfx = "" if k == 1 else str(k)
    layout["xaxis" + sfx] = dict(
        domain=p["xd"], anchor="y" + sfx, range=p["xr"], showgrid=False, zeroline=False, automargin=False,
        showline=True, linecolor="black", linewidth=1.5, mirror=True,
        ticks="outside", ticklen=5, tickwidth=1.2, tickcolor="black", tick0=0, dtick=p["dt"],
        minor=dict(ticks="outside", ticklen=3, tickwidth=1, tickcolor="black", tick0=0, dtick=p["mdt"]),
        tickfont=dict(family=FONT, size=14.5, color="black"), ticklabelstandoff=0,
        title=dict(text="Binding energy (eV)", font=dict(family=FONT, size=18, color="black"), standoff=12),
    )
    layout["yaxis" + sfx] = dict(
        domain=p["yd"], anchor="x" + sfx, range=p["yr"], showgrid=False, zeroline=False, automargin=False,
        showline=True, linecolor="black", linewidth=1.5, mirror=True, ticks="", showticklabels=False,
        title=dict(text=p["ytitle"], font=dict(family=FONT, size=18, color="black"), standoff=8),
    )
    layout["xaxis" + str(k + 4)] = dict(
        overlaying="x" + sfx, anchor="y" + sfx, side="top", range=p["xr"], showgrid=False, zeroline=False,
        automargin=False, showline=False, showticklabels=False, ticks="inside", ticklen=5, tickwidth=1.2,
        tickcolor="black", tick0=0, dtick=p["dt"],
        minor=dict(ticks="inside", ticklen=3, tickwidth=1, tickcolor="black", tick0=0, dtick=p["mdt"]),
    )

fig.update_layout(**layout)

ann = []
TXT = dict(family=FONT, size=18, color="black")

# panel letters
for letter, (px, py) in {"A": (158, 60), "B": (158, 463), "C": (657, 60), "D": (660, 466)}.items():
    ann.append(dict(text="<b>%s</b>" % letter, x=px / W, y=1 - py / H, xref="paper", yref="paper",
                    showarrow=False, xanchor="center", yanchor="middle",
                    font=dict(family=FONT, size=24, color="black")))

# boxed region labels
for text, xr, yr, dx, dy in [("wide spectra", "x", "y", 0.018, 0.975), ("La 3d", "x2", "y2", 0.0168, 0.977),
                              ("O 1s", "x3", "y3", 0.0152, 0.975), ("Ti 2p", "x4", "y4", 0.0166, 0.971)]:
    ann.append(dict(text=text, x=dx, y=dy, xref=xr + " domain", yref=yr + " domain", xanchor="left",
                    yanchor="top", showarrow=False, font=TXT, bordercolor="#8a8a8a", borderwidth=1,
                    borderpad=1, bgcolor="white"))

# panel A vertical peak labels
for text, ex, iy in zip(A_peak_labels, [846.1, 484.7, 426.3, 38.3], [281, 161, 139.3, 106]):
    ann.append(dict(text=text, x=ex, y=iy, xref="x", yref="y", textangle=-90, showarrow=False,
                    xanchor="center", yanchor="middle", font=TXT))

# peak labels
for text, ex, iy, xr, yr in [
    ("La³⁺_3/2", 853.49, 329.7, "x2", "y2"), ("La³⁺_5/2", 838.25, 289.7, "x2", "y2"),
    ("C=O", 532.83, 332.7, "x3", "y3"), ("metal oxide", 526.82, 304.3, "x3", "y3"), ("O-H", 534.93, 67.7, "x3", "y3"),
    ("Ti⁴⁺", 455.93, 309.3, "x4", "y4"), ("Ti⁴⁺", 466.14, 121, "x4", "y4"),
    ("Ti²⁺", 460.62, 71, "x4", "y4")]:
    ann.append(dict(text=text, x=ex, y=iy, xref=xr, yref=yr, showarrow=False, xanchor="center",
                    yanchor="middle", font=TXT))

# caption
ann.append(dict(text="FIGURE 5", x=41 / W, y=1 - 922 / H, xref="paper", yref="paper", xanchor="left",
                yanchor="middle", showarrow=False,
                font=dict(family=CAP_FONT, size=16, color="#6b6b6b", weight=600)))
ann.append(dict(text="XPS spectra of black sintered LLTO pellet: <b>(A)</b> wide survey; <b>(B)</b> La 3d region; "
                     "<b>(C)</b> O 1s region; and <b>(D)</b> Ti 2p region.",
                x=41 / W, y=1 - 946 / H, xref="paper", yref="paper", xanchor="left", yanchor="middle",
                showarrow=False, font=dict(family=CAP_FONT, size=16.8, color="#707070")))

fig.update_layout(annotations=ann)

# card frame lines
fig.update_layout(shapes=[
    dict(type="line", xref="paper", yref="paper", x0=9 / W, x1=1, y0=1 - 12 / H, y1=1 - 12 / H,
         line=dict(color="#c4c4c4", width=1.5)),
    dict(type="line", xref="paper", yref="paper", x0=9 / W, x1=9 / W, y0=0, y1=1 - 12 / H,
         line=dict(color="#c4c4c4", width=1.5)),
])

fig.write_html("out.html")
